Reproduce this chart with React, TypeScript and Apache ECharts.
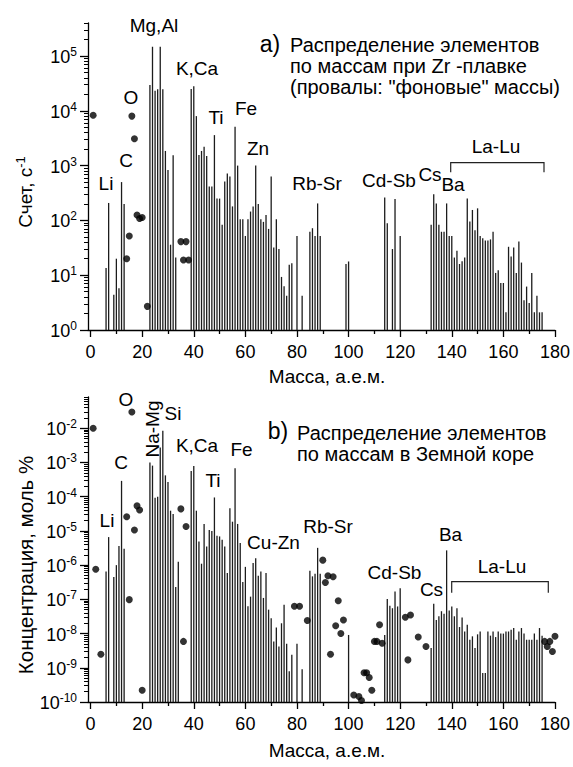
import React, { useEffect, useRef } from 'react';
import * as echarts from 'echarts';

const FONT = 'Arial';

// ---------- (a) counts vs mass, Zr flux ----------
const topBarMass = [6, 7, 9, 10, 11, 12, 13,
  23, 24, 25, 26, 27, 28, 29, 30, 31, 32, 33,
  39, 40, 41, 42, 43, 44, 45, 46, 47, 48, 49, 50, 51, 52, 53, 54, 55, 56, 57, 58, 59, 60, 61, 62, 63, 64, 65, 66, 67, 68, 69, 70, 71, 72, 73, 74, 75, 76, 77, 78, 80, 82,
  85, 86, 87, 88, 89,
  99, 100,
  114, 115, 117, 118, 120,
  132, 133, 134, 135, 136, 137, 138, 139, 140, 141, 142, 143, 144, 145, 146, 147, 148, 149, 150, 151, 152, 153, 154, 155, 156, 157, 158, 159, 160, 161, 162, 163, 164, 165, 166, 167, 168, 169, 170, 171, 172, 173, 174, 175];
const topBarCount = [13.5, 208, 4.4, 20, 5.8, 500, 200,
  29500, 148000, 23300, 24800, 148000, 24800, 1850, 830, 36, 1550, 21,
  25000, 28000, 8000, 1560, 1850, 2200, 1500, 415, 415, 3600, 250, 250, 83, 510, 720, 630, 180, 5100, 1000, 105, 105, 52, 105, 145, 180, 1000, 200, 105, 94, 125, 70, 630, 32, 105, 30, 9.3, 6.3, 4.2, 15.5, 16.6, 52, 4.2,
  62, 72, 52, 204, 52,
  16, 17.8,
  263, 89, 30, 245, 52,
  83, 300, 204, 83, 62, 62, 204, 52, 52, 21, 28, 16, 18, 21, 251, 95, 155, 66, 166, 52, 47, 43, 43, 45, 62, 11, 12.3, 7.2, 7.2, 2.1, 33, 22, 32, 11, 41, 17, 3.5, 6.2, 3.1, 11, 2.1, 4.2, 2.1, 2.1];
const topDotMass = [1, 14, 15, 16, 17, 18, 19, 20, 22, 35, 36, 37, 38];
const topDotCount = [8300, 20, 52, 8000, 3100, 125, 108, 113, 2.7, 41, 19, 41, 19];

// ---------- (b) Earth crust, mol % ----------
const botBarMass = [6, 7, 9, 10, 11, 12, 13,
  23, 24, 25, 26, 27, 28, 29, 30, 31, 32, 33, 34,
  39, 40, 41, 42, 43, 44, 45, 46, 47, 48, 49, 50, 51, 52, 53, 54, 55, 56, 57, 58, 59, 60, 61, 62, 63, 64, 65, 66, 67, 68, 69, 70, 71, 72, 73, 74, 75, 76, 77, 78, 80, 82,
  85, 86, 87, 88, 89,
  100,
  114, 115, 116, 117, 118, 119, 120,
  132, 133, 134, 135, 136, 137, 138, 139, 140, 141, 142, 143, 144, 145, 146, 147, 148, 149, 150, 151, 152, 153, 154, 155, 156, 157, 158, 159, 160, 161, 162, 163, 164, 165, 166, 167, 168, 169, 170, 171, 172, 173, 174, 175];
const botBarConc = [6.5e-7, 6.6e-6, 4.5e-7, 1.0e-6, 3.6e-6, 2.9e-4, 3.0e-6,
  1.0e-3, 8.1e-4, 9.3e-5, 1.0e-4, 2.75e-3, 8.5e-3, 4.2e-4, 2.7e-4, 3.9e-5, 3.1e-5, 2.3e-7, 1.26e-6,
  5.6e-4, 7.9e-4, 3.9e-5, 4.9e-6, 1.1e-6, 1.6e-5, 3.5e-6, 1.07e-5, 1.0e-5, 9.5e-5, 7.2e-6, 6.9e-6, 5.5e-6, 3.5e-6, 5.9e-7, 4.6e-5, 1.86e-5, 6.8e-4, 1.6e-5, 4.4e-6, 3.2e-7, 8.9e-7, 6.3e-8, 1.2e-7, 1.15e-6, 1.6e-6, 4.9e-7, 6.5e-7, 1.1e-7, 5.9e-7, 5.0e-8, 2.8e-8, 5.9e-9, 1.5e-8, 4.2e-9, 2.0e-8, 6.9e-8, 5.0e-9, 7.9e-10, 2.4e-9, 5.0e-9, 9.1e-10,
  6.8e-7, 4.7e-7, 5.6e-7, 3.2e-6, 5.6e-7,
  9.1e-9,
  9.1e-9, 1.02e-7, 6.5e-8, 5.5e-8, 1.7e-7, 6.2e-8, 2.1e-7,
  3.8e-9, 7.4e-8, 2.5e-8, 3.2e-8, 4.5e-8, 3.8e-8, 2.7e-6, 4.7e-8, 6.2e-8, 3.2e-8, 5.5e-8, 1.55e-8, 2.95e-8, 1.15e-8, 1.8e-8, 6.6e-9, 8.3e-9, 3.8e-9, 9.5e-9, 1.15e-8, 7e-10, 7e-10, 1.15e-8, 8.7e-9, 1.15e-8, 7.9e-9, 1.15e-8, 1.0e-8, 1.0e-8, 1.15e-8, 1.15e-8, 1.3e-8, 1.45e-8, 6.6e-9, 1.15e-8, 1.45e-8, 1.0e-8, 6.6e-9, 6.6e-9, 6.6e-9, 1.0e-8, 6.6e-9, 1.45e-8, 8.7e-9];
const botDotMass = [1, 2, 4, 14, 15, 16, 17, 18, 19, 20, 35, 36, 37, 79, 81, 84, 90, 91, 92, 93, 94, 95, 96, 97, 98, 102, 104, 105, 106, 107, 108, 109, 110, 111, 112, 113, 122, 123, 124, 127, 130, 176, 177, 178, 179, 180];
const botDotConc = [0.01, 7.6e-7, 2.5e-9, 2.6e-5, 9.8e-8, 0.03, 1.07e-5, 5.4e-5, 4.1e-5, 2.2e-10, 4.4e-5, 5.9e-9, 1.35e-5, 6.3e-8, 6.3e-8, 2.4e-8, 1.4e-6, 3.1e-7, 4.9e-7, 2.5e-9, 4.6e-7, 1.7e-8, 9.1e-8, 1.0e-8, 2.5e-8, 1.6e-10, 1.45e-10, 1.1e-10, 7.2e-10, 7.2e-10, 5.2e-10, 2.2e-10, 5.9e-9, 5.9e-9, 1.8e-8, 5.2e-9, 3.0e-8, 1.7e-9, 3.5e-8, 7.9e-9, 4.2e-9, 5.9e-9, 4.2e-9, 5.9e-9, 3.0e-9, 8.3e-9];

// ---------- axes ----------
const xMajorTicks = [0, 20, 40, 60, 80, 100, 120, 140, 160, 180];
const xMinorTicks = [10, 30, 50, 70, 90, 110, 130, 150, 170];
const topExpRange = [0, 5];
const botExpRange = [-10, -2];
const topYMin = 1, topYMax = 4e5;
const botYMin = 1e-10, botYMax = 0.082;

function decades(lo: number, hi: number) {
  const out: number[] = [];
  for (let e = lo; e <= hi; e++) out.push(Math.pow(10, e) * 1.000001);
  return out;
}
function minors(lo: number, hi: number, max: number) {
  const out: number[] = [];
  for (let e = lo; e <= hi; e++) {
    for (let k = 2; k <= 9; k++) {
      const v = k * Math.pow(10, e);
      if (v <= max) out.push(v);
    }
  }
  return out;
}

const BLACK = '#000';
const AXW = 1.3;

function supFormatter(v: number) {
  const e = Math.round(Math.log10(v));
  return `{b|10}{s|${e}}`;
}
const supRich = {
  b: { fontSize: 18, fontFamily: FONT, color: BLACK, verticalAlign: 'bottom' },
  s: { fontSize: 12, fontFamily: FONT, color: BLACK, verticalAlign: 'bottom', padding: [0, 0, 8, 0] },
};

function xAxes(gridIndex: number) {
  return [
    {
      gridIndex, type: 'value', min: -1, max: 180, position: 'bottom',
      axisLine: { show: true, onZero: false, lineStyle: { color: BLACK, width: AXW } },
      axisTick: { show: true, length: 7, customValues: xMajorTicks, lineStyle: { color: BLACK, width: AXW } },
      axisLabel: { show: true, customValues: xMajorTicks, margin: 13, fontSize: 18, fontFamily: FONT, color: BLACK },
      splitLine: { show: false },
    },
    {
      gridIndex, type: 'value', min: -1, max: 180, position: 'bottom',
      axisLine: { show: false, onZero: false },
      axisTick: { show: true, length: 4, customValues: xMinorTicks, lineStyle: { color: BLACK, width: AXW } },
      axisLabel: { show: false },
      splitLine: { show: false },
    },
  ];
}
function yAxes(gridIndex: number, min: number, max: number, er: number[]) {
  return [
    {
      gridIndex, type: 'log', logBase: 10, min, max, position: 'left',
      axisLine: { show: true, onZero: false, lineStyle: { color: BLACK, width: AXW } },
      axisTick: { show: true, length: 8, customValues: decades(er[0], er[1]), lineStyle: { color: BLACK, width: AXW } },
      axisLabel: { show: true, customValues: decades(er[0], er[1]), margin: 11, formatter: supFormatter, rich: supRich },
      splitLine: { show: false },
    },
    {
      gridIndex, type: 'log', logBase: 10, min, max, position: 'left',
      axisLine: { show: false, onZero: false },
      axisTick: { show: true, length: 4, customValues: minors(er[0], er[1] + 1, max), lineStyle: { color: BLACK, width: 1 } },
      axisLabel: { show: false },
      splitLine: { show: false },
    },
  ];
}

function barSeries(xIdx: number, yIdx: number, mass: number[], vals: number[], base: number) {
  return {
    type: 'custom',
    xAxisIndex: xIdx, yAxisIndex: yIdx,
    clip: false,
    encode: { x: 0, y: 1 },
    data: mass.map((m, i) => [m, vals[i]]),
    renderItem: (_p: any, api: any) => {
      const top = api.coord([api.value(0), api.value(1)]);
      const bot = api.coord([api.value(0), base]);
      return {
        type: 'line',
        shape: { x1: top[0], y1: top[1], x2: bot[0], y2: bot[1] },
        style: { stroke: '#1c1c1c', lineWidth: 1.3 },
      };
    },
  };
}
function dotSeries(xIdx: number, yIdx: number, mass: number[], vals: number[]) {
  return {
    type: 'scatter', xAxisIndex: xIdx, yAxisIndex: yIdx, clip: false,
    symbol: 'circle', symbolSize: 7,
    itemStyle: { color: BLACK },
    data: mass.map((m, i) => [m, vals[i]]),
  };
}

function label(x: number, y: number, text: string, fontSize = 19, extra: any = {}) {
  return {
    type: 'text', x, y, rotation: extra.rotation || 0, silent: true,
    style: {
      text, fill: BLACK, fontSize, fontFamily: FONT,
      align: extra.align || 'center', verticalAlign: 'middle',
      textAlign: extra.align || 'center', textVerticalAlign: 'middle',
      rich: extra.rich,
    },
  };
}
function bracket(x1: number, x2: number, y: number, drop: number) {
  return {
    type: 'polyline', silent: true,
    shape: { points: [[x1, y + drop], [x1, y], [x2, y], [x2, y + drop]] },
    style: { stroke: '#222', lineWidth: 1.2, fill: null },
  };
}

const titleRich = {
  a: { fontSize: 19, fontFamily: FONT, color: BLACK, verticalAlign: 'bottom' },
  s: { fontSize: 13, fontFamily: FONT, color: BLACK, verticalAlign: 'bottom', padding: [0, 0, 8, 0] },
};

export default function App() {
  const ref = useRef<HTMLDivElement>(null);
  useEffect(() => {
    if (!ref.current) return;
    const chart = echarts.init(ref.current, null, { renderer: 'svg' });
    const option: any = {
      animation: false,
      backgroundColor: '#fff',
      textStyle: { fontFamily: FONT },
      grid: [
        { left: 88, top: 23, width: 468, height: 307 },
        { left: 88, top: 397, width: 468, height: 305 },
      ],
      xAxis: [...xAxes(0), ...xAxes(1)],
      yAxis: [
        ...yAxes(0, topYMin, topYMax, topExpRange),
        ...yAxes(1, botYMin, botYMax, botExpRange),
      ],
      series: [
        barSeries(0, 0, topBarMass, topBarCount, topYMin),
        dotSeries(0, 0, topDotMass, topDotCount),
        barSeries(2, 2, botBarMass, botBarConc, botYMin),
        dotSeries(2, 2, botDotMass, botDotConc),
      ],
      graphic: [
        // top panel
        label(154, 25, 'Mg,Al'),
        label(197, 68, 'K,Ca'),
        label(131, 97, 'O'),
        label(126, 160, 'C'),
        label(106, 183, 'Li'),
        label(216, 117, 'Ti'),
        label(246, 108, 'Fe'),
        label(258, 148, 'Zn'),
        label(317, 183, 'Rb-Sr'),
        label(389, 180, 'Cd-Sb'),
        label(430, 174, 'Cs'),
        label(453, 184, 'Ba'),
        label(496, 146, 'La-Lu'),
        bracket(450.7, 544, 162.7, 9.5),
        label(270, 44, 'a)', 23),
        label(290, 45, 'Распределение элементов', 20, { align: 'left' }),
        label(290, 66, 'по массам при Zr -плавке', 20, { align: 'left' }),
        label(290, 87, '(провалы: "фоновые" массы)', 20, { align: 'left' }),
        label(327, 376, 'Масса, а.е.м.'),
        label(24, 192, '{a|Счет, с}{s|-1}', 19, { rotation: Math.PI / 2, rich: titleRich }),
        // bottom panel
        label(126, 399, 'O'),
        label(152.5, 429, 'Na-Mg', 19, { rotation: Math.PI / 2 }),
        label(173, 413, 'Si'),
        label(197, 445, 'K,Ca'),
        label(241.5, 449.5, 'Fe'),
        label(213, 480, 'Ti'),
        label(121, 462, 'C'),
        label(107, 520, 'Li'),
        label(273.5, 542.5, 'Cu-Zn'),
        label(328, 526, 'Rb-Sr'),
        label(394.5, 572, 'Cd-Sb'),
        label(431.5, 589.5, 'Cs'),
        label(450.5, 534.5, 'Ba'),
        label(502, 566.5, 'La-Lu'),
        bracket(451.7, 548.3, 581.7, 11),
        label(278, 431, 'b)', 23),
        label(297, 433, 'Распределение элементов', 20, { align: 'left' }),
        label(297, 454, 'по массам в Земной коре', 20, { align: 'left' }),
        label(327, 750, 'Масса, а.е.м.'),
        label(25.5, 565, 'Концентрация, моль %', 20.5, { rotation: Math.PI / 2 }),
      ],
    };
    chart.setOption(option);
    return () => chart.dispose();
  }, []);
  return (
    <div
      ref={ref}
      style={{ position: 'fixed', left: 0, top: 0, width: 573, height: 767, background: '#fff' }}
    />
  );
}
